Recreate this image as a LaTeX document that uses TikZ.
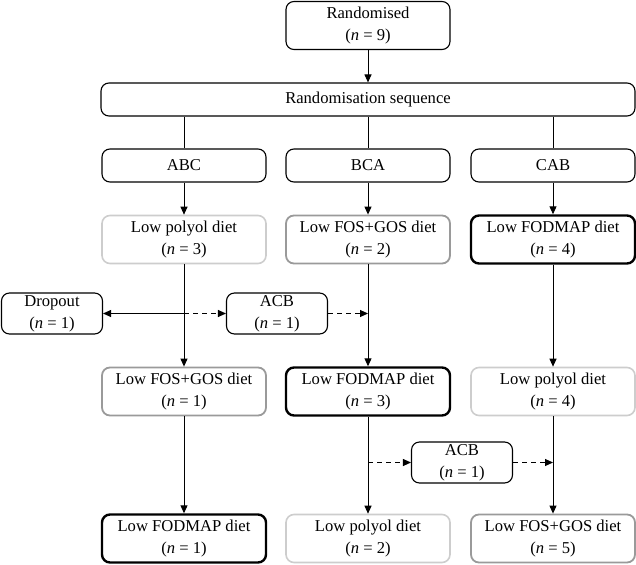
\documentclass[tikz,border=0pt]{standalone}
\usepackage{fontspec}
\setmainfont{Liberation Serif}
\usetikzlibrary{arrows.meta}
\definecolor{lightedge}{HTML}{CDCDCD}
\definecolor{midedge}{HTML}{9A9A9A}
\begin{document}
\begin{tikzpicture}[x=1pt,y=-1pt,
  base/.style={rounded corners=8pt, align=center, inner sep=0pt,
    font=\fontsize{16.6}{22}\selectfont, minimum height=48pt, minimum width=164pt},
  plainbox/.style={base, draw=black, line width=1.1pt},
  lightbox/.style={base, draw=lightedge, line width=1.6pt},
  midbox/.style={base, draw=midedge, line width=1.8pt},
  boldbox/.style={base, draw=black, line width=2.4pt},
  smallbox/.style={plainbox, minimum width=101pt, minimum height=41pt},
  arr/.style={line width=1pt, -{Triangle[length=8pt,width=7pt]}},
  link/.style={line width=1pt},
  dashlink/.style={arr, dash pattern=on 5pt off 4pt}]
\useasboundingbox (0,0) rectangle (636,564);

% top of the chart
\node[plainbox] (rnd) at (368,25.5) {Randomised\\(\textit{n} = 9)};
\node[plainbox, minimum width=534pt, minimum height=33pt] (seq) at (368,99.5) {Randomisation sequence};

% sequence arms
\node[plainbox, minimum height=33pt] (abc) at (184,165.5) {ABC};
\node[plainbox, minimum height=33pt] (bca) at (368,165.5) {BCA};
\node[plainbox, minimum height=33pt] (cab) at (553,165.5) {CAB};

% first period
\node[lightbox] (a1) at (184,239.5) {Low polyol diet\\(\textit{n} = 3)};
\node[midbox]   (b1) at (368,239.5) {Low FOS+GOS diet\\(\textit{n} = 2)};
\node[boldbox]  (c1) at (553,239.5) {Low FODMAP diet\\(\textit{n} = 4)};

% withdrawals and switches after period one
\node[smallbox] (drop) at (52,313.5) {Dropout\\(\textit{n} = 1)};
\node[smallbox] (acb1) at (277,313.5) {ACB\\(\textit{n} = 1)};

% second period
\node[midbox]   (a2) at (184,391.5) {Low FOS+GOS diet\\(\textit{n} = 1)};
\node[boldbox]  (b2) at (368,391.5) {Low FODMAP diet\\(\textit{n} = 3)};
\node[lightbox] (c2) at (553,391.5) {Low polyol diet\\(\textit{n} = 4)};

% switch after period two
\node[smallbox] (acb2) at (462,462.5) {ACB\\(\textit{n} = 1)};

% third period
\node[boldbox]  (a3) at (184,538.5) {Low FODMAP diet\\(\textit{n} = 1)};
\node[lightbox] (b3) at (368,538.5) {Low polyol diet\\(\textit{n} = 2)};
\node[midbox]   (c3) at (553,538.5) {Low FOS+GOS diet\\(\textit{n} = 5)};

% connectors
\draw[arr] (rnd) -- (seq);
\foreach \n in {abc,bca,cab}
  \draw[link] (\n.north |- seq.south) -- (\n.north);
\draw[arr] (abc) -- (a1);
\draw[arr] (bca) -- (b1);
\draw[arr] (cab) -- (c1);
\draw[arr] (a1) -- (a2);
\draw[arr] (b1) -- (b2);
\draw[arr] (c1) -- (c2);
\draw[arr] (a2) -- (a3);
\draw[arr] (b2) -- (b3);
\draw[arr] (c2) -- (c3);

\coordinate (j1) at (a1.south |- drop.east);
\coordinate (j2) at (b1.south |- acb1.east);
\draw[arr] (j1) -- (drop.east);
\draw[dashlink] (j1) -- (acb1.west);
\draw[dashlink] (acb1.east) -- (j2);

\coordinate (j3) at (b2.south |- acb2.west);
\coordinate (j4) at (c2.south |- acb2.east);
\draw[dashlink] (j3) -- (acb2.west);
\draw[dashlink] (acb2.east) -- (j4);
\end{tikzpicture}
\end{document}
